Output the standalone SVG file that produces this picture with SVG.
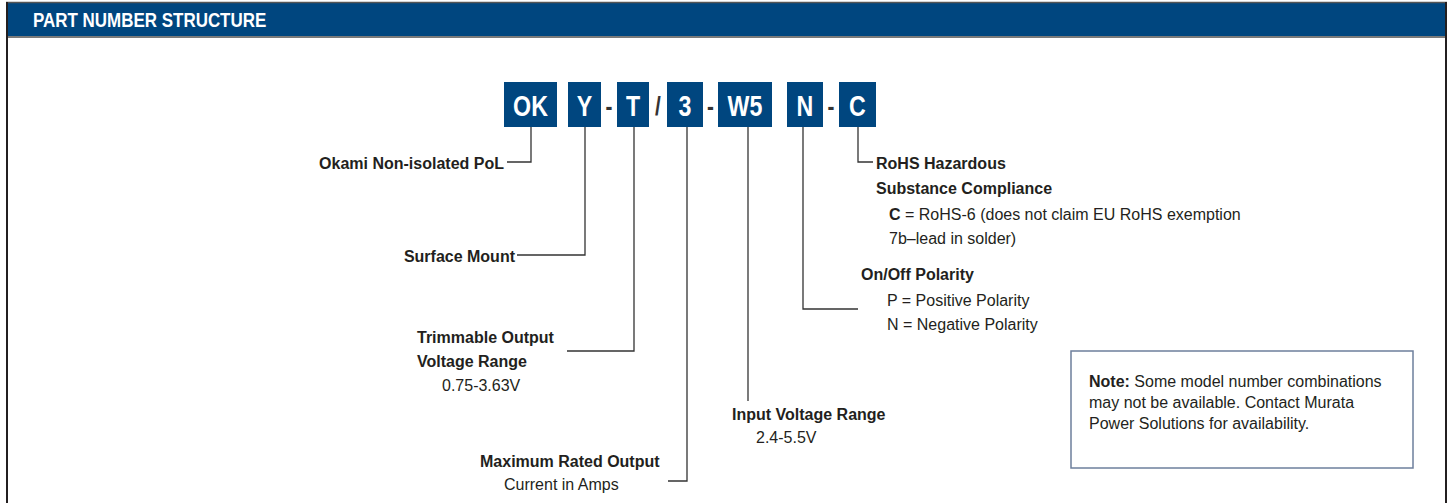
<svg xmlns="http://www.w3.org/2000/svg" width="1449" height="503" viewBox="0 0 1449 503">
<style>
.box{fill:#00467f}
.code{font-family:"Liberation Sans",Arial,sans-serif;font-weight:bold;font-size:29px;fill:#ffffff;text-anchor:middle}
.sep{font-family:"Liberation Sans",Arial,sans-serif;font-weight:bold;font-size:26px;fill:#333333;text-anchor:middle}
.conn{fill:none;stroke:#333333;stroke-width:1.3}
.b{font-family:"Liberation Sans",Arial,sans-serif;font-weight:bold;font-size:16px;fill:#231f20}
.r{font-family:"Liberation Sans",Arial,sans-serif;font-size:16px;fill:#231f20}
.end{text-anchor:end}
</style>
<rect x="0" y="0" width="1449" height="503" fill="#ffffff"/>
<g id="frame">
<rect x="6" y="3" width="1441" height="34" fill="#00467f"/>
<line x1="6" y1="2.5" x2="1447" y2="2.5" stroke="#555555" stroke-width="1.5"/>
<line x1="6" y1="37" x2="1447" y2="37" stroke="#7a7a7a" stroke-width="2"/>
<line x1="7" y1="2" x2="7" y2="503" stroke="#231f20" stroke-width="2"/>
<line x1="1446" y1="2" x2="1446" y2="503" stroke="#231f20" stroke-width="2"/>
<text transform="translate(33,27) scale(0.87,1)" font-family="'Liberation Sans',Arial,sans-serif" font-weight="bold" font-size="19.5" fill="#ffffff">PART NUMBER STRUCTURE</text>
</g>
<g id="code">
<g id="box-ok"><rect class="box" x="504" y="82" width="53" height="45"/><text class="code" transform="translate(530.5,116) scale(0.8,1)">OK</text></g>
<g id="box-y"><rect class="box" x="568" y="82" width="33" height="45"/><text class="code" transform="translate(584.5,116) scale(0.8,1)">Y</text></g>
<text class="sep" transform="translate(609,115) scale(0.8,1)">-</text>
<g id="box-t"><rect class="box" x="617" y="82" width="32" height="45"/><text class="code" transform="translate(633,116) scale(0.8,1)">T</text></g>
<text class="sep" transform="translate(658,115) scale(0.8,1)">/</text>
<g id="box-3"><rect class="box" x="667" y="82" width="36" height="45"/><text class="code" transform="translate(685,116) scale(0.8,1)">3</text></g>
<text class="sep" transform="translate(710.5,115) scale(0.8,1)">-</text>
<g id="box-w5"><rect class="box" x="718" y="82" width="54" height="45"/><text class="code" transform="translate(745,116) scale(0.8,1)">W5</text></g>
<g id="box-n"><rect class="box" x="787" y="82" width="36" height="45"/><text class="code" transform="translate(805,116) scale(0.8,1)">N</text></g>
<text class="sep" transform="translate(831,115) scale(0.8,1)">-</text>
<g id="box-c"><rect class="box" x="839" y="82" width="37" height="45"/><text class="code" transform="translate(857.5,116) scale(0.8,1)">C</text></g>
</g>
<g id="connectors">
<polyline class="conn" points="531,127 531,162 507,162"/>
<polyline class="conn" points="585,127 585,255 517,255"/>
<polyline class="conn" points="634,127 634,351 567,351"/>
<polyline class="conn" points="687,127 687,481 668,481"/>
<polyline class="conn" points="748,127 748,401"/>
<polyline class="conn" points="803,127 803,309 858,309"/>
<polyline class="conn" points="858,127 858,162 873,162"/>
</g>
<g id="label-okami"><text class="b end" x="504" y="169">Okami Non-isolated PoL</text></g>
<g id="label-surface"><text class="b end" x="515" y="262">Surface Mount</text></g>
<g id="label-trim">
<text class="b" x="417" y="343">Trimmable Output</text>
<text class="b" x="417" y="367">Voltage Range</text>
<text class="r" x="442" y="391">0.75-3.63V</text>
</g>
<g id="label-max">
<text class="b" x="480" y="467">Maximum Rated Output</text>
<text class="r" x="504" y="490">Current in Amps</text>
</g>
<g id="label-input">
<text class="b" x="732" y="420">Input Voltage Range</text>
<text class="r" x="756" y="443">2.4-5.5V</text>
</g>
<g id="label-onoff">
<text class="b" x="861" y="280">On/Off Polarity</text>
<text class="r" x="887" y="306">P = Positive Polarity</text>
<text class="r" x="887" y="330">N = Negative Polarity</text>
</g>
<g id="label-rohs">
<text class="b" x="876" y="169">RoHS Hazardous</text>
<text class="b" x="876" y="194">Substance Compliance</text>
<text class="r" x="889" y="220"><tspan font-weight="bold">C</tspan> = RoHS-6 (does not claim EU RoHS exemption</text>
<text class="r" x="889" y="244">7b–lead in solder)</text>
</g>
<g id="note">
<rect x="1071" y="351" width="342" height="117" fill="none" stroke="#6d7f9c" stroke-width="1.5"/>
<text class="r" x="1089" y="387"><tspan font-weight="bold">Note:</tspan> Some model number combinations</text>
<text class="r" x="1089" y="408">may not be available. Contact Murata</text>
<text class="r" x="1089" y="429">Power Solutions for availability.</text>
</g>
</svg>
